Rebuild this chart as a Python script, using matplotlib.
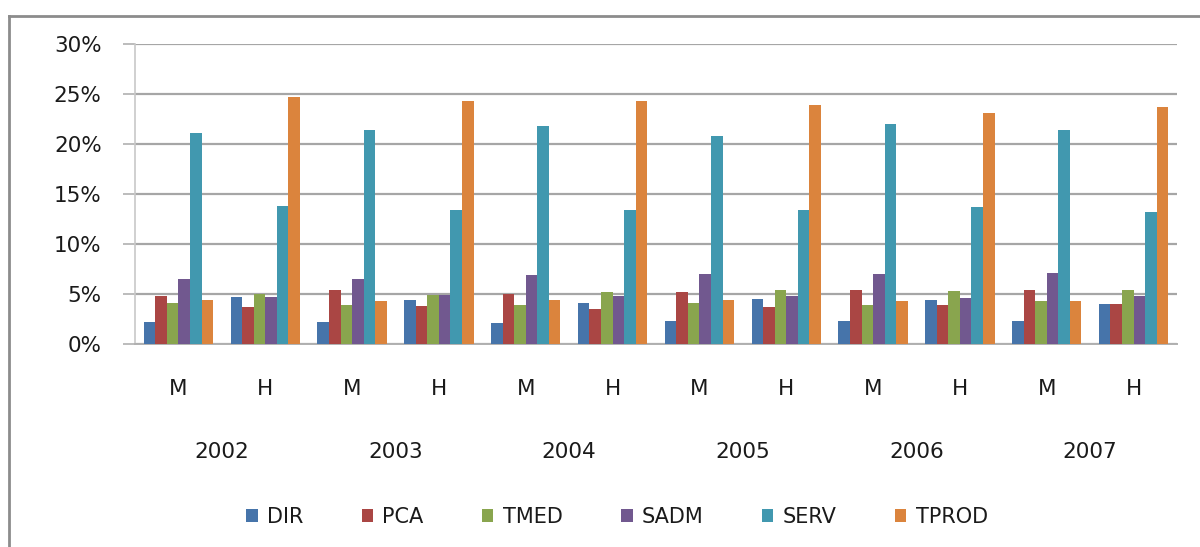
import matplotlib.pyplot as plt
import numpy as np
from matplotlib.lines import Line2D

years = ["2002", "2003", "2004", "2005", "2006", "2007"]
sexes = ["M", "H"]
series = ["DIR", "PCA", "TMED", "SADM", "SERV", "TPROD"]
colors = ["#4674AA", "#AA4644", "#89A54E", "#71588F", "#4198AF", "#DB843D"]

# values in %, order: 2002 M, 2002 H, 2003 M, ... 2007 H
dir_vals = [2.2, 4.7, 2.2, 4.4, 2.1, 4.1, 2.3, 4.5, 2.3, 4.4, 2.3, 4.0]
pca_vals = [4.8, 3.7, 5.4, 3.8, 5.0, 3.5, 5.2, 3.7, 5.4, 3.9, 5.4, 4.0]
tmed_vals = [4.1, 5.0, 3.9, 4.9, 3.9, 5.2, 4.1, 5.4, 3.9, 5.3, 4.3, 5.4]
sadm_vals = [6.5, 4.7, 6.5, 4.9, 6.9, 4.8, 7.0, 4.8, 7.0, 4.6, 7.1, 4.8]
serv_vals = [21.1, 13.8, 21.4, 13.4, 21.8, 13.4, 20.8, 13.4, 22.0, 13.7, 21.4, 13.2]
tprod_vals = [4.4, 24.7, 4.3, 24.3, 4.4, 24.3, 4.4, 23.9, 4.3, 23.1, 4.3, 23.7]

data = [dir_vals, pca_vals, tmed_vals, sadm_vals, serv_vals, tprod_vals]

W, H = 1200, 547
plt.rcParams["font.family"] = ["DejaVu Sans"]
fig = plt.figure(figsize=(W / 100, H / 100), dpi=100)

ax = fig.add_axes([135 / W, 1 - 344 / H, (1177 - 135) / W, 300 / H])

n_groups = len(dir_vals)
x = np.arange(n_groups) + 0.5
bw = 0.8 / len(series)
for i, (name, vals) in enumerate(zip(series, data)):
    ax.bar(x - 0.4 + bw * (i + 0.5), np.array(vals) / 100, width=bw,
           color=colors[i], label=name, zorder=3)

ax.set_xlim(0, n_groups)
ax.set_ylim(0, 0.30)
ticks = np.arange(0, 0.31, 0.05)
ax.set_yticks(ticks)
ax.set_yticklabels([f"{int(round(v * 100))}%" for v in ticks],
                   fontsize=15.5, color="#1a1a1a")
ax.yaxis.grid(True, color="#a6a6a6", linewidth=1.6, zorder=0)

ax.set_xticks(x)
ax.set_xticklabels(sexes * len(years), fontsize=15.5, color="#1a1a1a")
ax.tick_params(axis="x", length=0, pad=25)
ax.tick_params(axis="y", length=9, color="#b0b0b0", width=1.2, pad=15)

for s in ["top", "right"]:
    ax.spines[s].set_visible(False)
ax.spines["left"].set_color("#c8c8c8")
ax.spines["left"].set_linewidth(1.2)
ax.spines["bottom"].set_color("#b0b0b0")
ax.spines["bottom"].set_linewidth(1.4)

for k, yr in enumerate(years):
    ax.text(2 * k + 1, -0.36, yr, transform=ax.get_xaxis_transform(),
            ha="center", va="center", fontsize=15.5, color="#1a1a1a")

handles, labels = ax.get_legend_handles_labels()
fig.legend(handles, labels, loc="center", bbox_to_anchor=(617 / W, 1 - 517 / H),
           ncol=6, frameon=False, fontsize=15, handlelength=0.55, handleheight=0.55,
           handletextpad=0.45, columnspacing=2.8, labelcolor="#1a1a1a")

# outer chart frame (left and top edges visible)
fig.add_artist(Line2D([9 / W, 9 / W], [0, 1 - 16 / H], transform=fig.transFigure,
                      color="#8c8c8c", linewidth=2))
fig.add_artist(Line2D([9 / W, 1], [1 - 16 / H, 1 - 16 / H], transform=fig.transFigure,
                      color="#8c8c8c", linewidth=2))

fig.savefig("out.png", dpi=100)
